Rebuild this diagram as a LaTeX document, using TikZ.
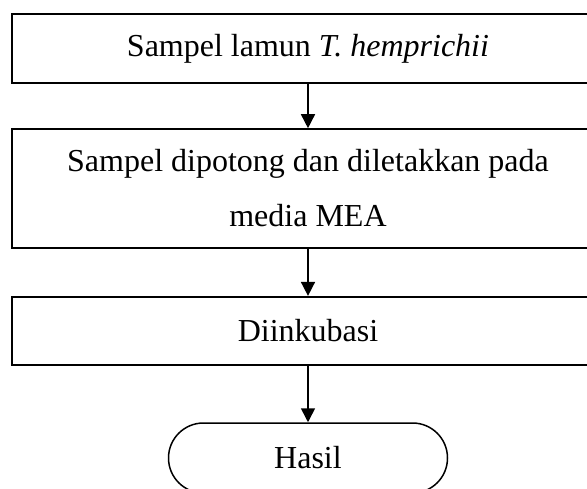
\documentclass[tikz,border=0pt]{standalone}
\usepackage{fontspec}
\setmainfont{Liberation Serif}
\usetikzlibrary{shapes.misc,arrows.meta}
\begin{document}
\begin{tikzpicture}[x=1pt,y=-1pt,
  stepbox/.style={draw, line width=1.6pt, minimum width=592pt, inner sep=0pt,
    font=\fontsize{32}{55}\selectfont, align=center},
  endbox/.style={draw, line width=1.5pt, rounded rectangle, minimum width=279pt,
    minimum height=70pt, inner sep=0pt, font=\fontsize{32}{38}\selectfont},
  flow/.style={line width=1.6pt, -{Triangle[length=14pt,width=14pt]}}]
\useasboundingbox (0,0) rectangle (587,489);
\clip (0,0) rectangle (587,489);
\fill[white] (0,0) rectangle (587,489);
\node[stepbox, minimum height=69pt] (s1) at (308,48.5) {Sampel lamun \textit{T. hemprichii}};
\node[stepbox, minimum height=119pt] (s2) at (308,188.5) {Sampel dipotong dan diletakkan pada\\media MEA};
\node[stepbox, minimum height=68pt, line width=2.2pt] (s3) at (308,331) {Diinkubasi};
\node[endbox] (s4) at (308,458) {Hasil};
\draw[flow] (s1.south) -- (s2.north);
\draw[flow] (s2.south) -- (s3.north);
\draw[flow] (s3.south) -- (s4.north);
\end{tikzpicture}
\end{document}
